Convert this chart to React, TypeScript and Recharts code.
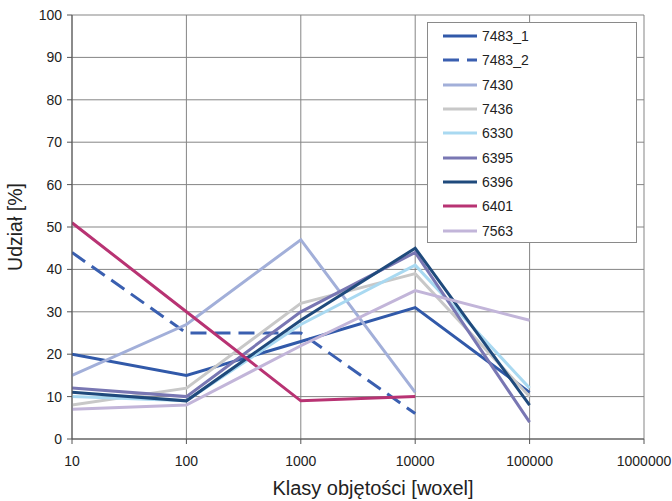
import { LineChart, Line, XAxis, YAxis, CartesianGrid } from 'recharts';

// klasy objętości (oś X, skala log)
const classes = [10, 100, 1000, 10000, 100000];

// udział [%] dla każdej próbki; null = brak punktu
const s7483_1 = [20, 15, 23, 31, 11];
const s7483_2 = [44, 25, 25, 6, null];
const s7430 = [15, 27, 47, 11, null];
const s7436 = [8, 12, 32, 39, 10];
const s6330 = [10, 9, 27, 41, 12];
const s6395 = [12, 10, 30, 44, 4];
const s6396 = [11, 9, 28, 45, 8];
const s6401 = [51, 30, 9, 10, null];
const s7563 = [7, 8, 22, 35, 28];

const xTicks = [10, 100, 1000, 10000, 100000, 1000000];
const yTicks = [0, 10, 20, 30, 40, 50, 60, 70, 80, 90, 100];

const SERIES = [
  { key: '7483_1', values: s7483_1, color: '#3159a9', dash: undefined },
  { key: '7483_2', values: s7483_2, color: '#3a5fb0', dash: '16 8' },
  { key: '7430', values: s7430, color: '#a2afd9', dash: undefined },
  { key: '7436', values: s7436, color: '#c8c8c8', dash: undefined },
  { key: '6330', values: s6330, color: '#a9d9f1', dash: undefined },
  { key: '6395', values: s6395, color: '#7977b3', dash: undefined },
  { key: '6396', values: s6396, color: '#1f4a7c', dash: undefined },
  { key: '6401', values: s6401, color: '#b83373', dash: undefined },
  { key: '7563', values: s7563, color: '#c2b5d9', dash: undefined },
];

const chartData = classes.map((x, i) => {
  const row: any = { x };
  SERIES.forEach((s) => {
    row[s.key] = s.values[i];
  });
  return row;
});

const FONT = '"Liberation Sans", Arial, sans-serif';

// legenda jako zwykły div nad wykresem
const LegendBox = () => (
  <div
    style={{
      position: 'absolute',
      left: 427,
      top: 22,
      width: 210,
      height: 221,
      border: '1px solid #8a8a8a',
      background: '#fff',
      boxSizing: 'border-box',
      paddingTop: 1,
      fontFamily: FONT,
      fontSize: 14,
      color: '#222',
    }}
  >
    {SERIES.map((s) => (
      <div key={s.key} style={{ height: 24.3, display: 'flex', alignItems: 'center' }}>
        <svg width={53} height={10}>
          <line
            x1={15}
            x2={49}
            y1={5}
            y2={5}
            stroke={s.color}
            strokeWidth={3}
            strokeDasharray={s.dash}
          />
        </svg>
        <span style={{ marginLeft: 1 }}>{s.key}</span>
      </div>
    ))}
  </div>
);

const App = () => {
  return (
    <div style={{ position: 'absolute', left: 0, top: 0, width: 672, height: 501, background: '#fff' }}>
      <LineChart
        width={672}
        height={501}
        data={chartData}
        margin={{ top: 15, right: 28, bottom: 0, left: 0 }}
      >
        <CartesianGrid stroke="#858585" vertical horizontal />
        <XAxis
          dataKey="x"
          type="number"
          scale="log"
          domain={[10, 1000000]}
          ticks={xTicks}
          allowDataOverflow
          interval={0}
          height={62}
          tickSize={5}
          tickMargin={12}
          stroke="#555"
          tick={{ fill: '#222', fontSize: 14, fontFamily: FONT }}
          label={{
            value: 'Klasy objętości [woxel]',
            position: 'insideBottom',
            offset: 6,
            dx: 15,
            fill: '#222',
            fontSize: 20,
            fontFamily: FONT,
          }}
        />
        <YAxis
          type="number"
          domain={[0, 100]}
          ticks={yTicks}
          interval={0}
          width={72}
          tickSize={5}
          tickMargin={5}
          stroke="#555"
          tick={{ fill: '#222', fontSize: 14, fontFamily: FONT }}
          label={{
            value: 'Udział [%]',
            angle: -90,
            position: 'insideLeft',
            offset: 15,
            fill: '#222',
            fontSize: 19.5,
            fontFamily: FONT,
            style: { textAnchor: 'middle' },
          }}
        />
        {SERIES.map((s) => (
          <Line
            key={s.key}
            type="linear"
            dataKey={s.key}
            name={s.key}
            stroke={s.color}
            strokeWidth={3}
            strokeDasharray={s.dash}
            dot={false}
            activeDot={false}
            isAnimationActive={false}
          />
        ))}
      </LineChart>
      <LegendBox />
    </div>
  );
};

export default App;
